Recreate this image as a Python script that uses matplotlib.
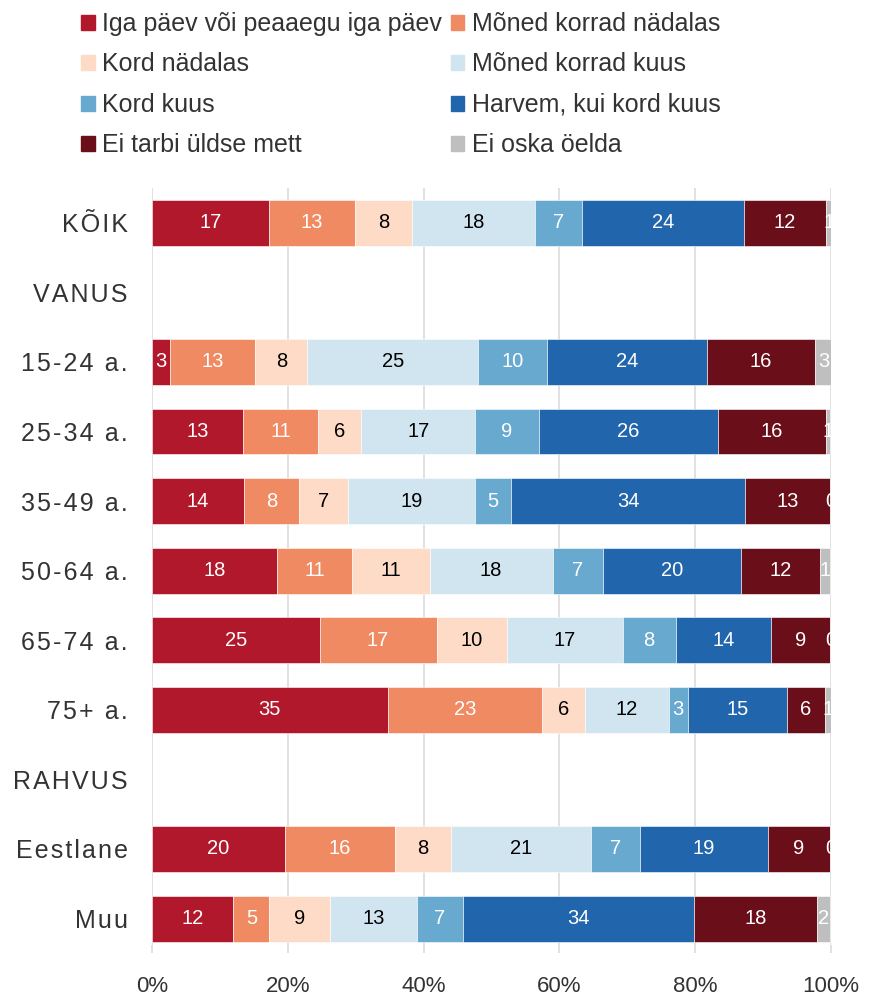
import matplotlib
matplotlib.use("Agg")
import matplotlib.pyplot as plt
from matplotlib.patches import Patch

plt.rcParams['font.family'] = ['Liberation Sans', 'DejaVu Sans']

# ridade nimed (pealkirjaread ilma tulpadeta)
rows = ["KÕIK", "VANUS", "15-24 a.", "25-34 a.", "35-49 a.", "50-64 a.",
        "65-74 a.", "75+ a.", "RAHVUS", "Eestlane", "Muu"]
data_rows = ["KÕIK", "15-24 a.", "25-34 a.", "35-49 a.", "50-64 a.",
             "65-74 a.", "75+ a.", "Eestlane", "Muu"]

series = ["Iga päev või peaaegu iga päev", "Mõned korrad nädalas",
          "Kord nädalas", "Mõned korrad kuus", "Kord kuus",
          "Harvem, kui kord kuus", "Ei tarbi üldse mett", "Ei oska öelda"]

iga_paev = [17.2, 2.6, 13.4, 13.6, 18.4, 24.7, 34.7, 19.6, 12.0]
moned_nadalas = [12.7, 12.6, 11.1, 8.1, 11.1, 17.2, 22.8, 16.2, 5.3]
kord_nadalas = [8.4, 7.7, 6.3, 7.1, 11.4, 10.4, 6.3, 8.2, 8.9]
moned_kuus = [18.1, 25.1, 16.8, 18.8, 18.1, 17.0, 12.3, 20.6, 12.8]
kord_kuus = [7.0, 10.1, 9.4, 5.3, 7.4, 7.8, 2.8, 7.2, 6.8]
harvem = [23.8, 23.7, 26.4, 34.4, 20.4, 14.1, 14.6, 18.9, 34.0]
ei_tarbi = [12.0, 15.8, 15.8, 12.6, 11.6, 8.7, 5.6, 9.1, 18.1]
ei_oska = [0.9, 2.6, 0.7, 0.2, 1.4, 0.2, 0.9, 0.3, 2.0]

values = [iga_paev, moned_nadalas, kord_nadalas, moned_kuus,
          kord_kuus, harvem, ei_tarbi, ei_oska]
colors = ["#B2182B", "#F08A62", "#FDDBC7", "#D1E5F0",
          "#67A9CF", "#2166AC", "#6A0E1A", "#BFBFBF"]
text_colors = ["white", "white", "black", "black",
               "white", "white", "white", "white"]

fig = plt.figure(figsize=(8.69, 9.98), dpi=100)
ax = fig.add_axes([0.1749, 0.0531, 0.7814, 0.7585])

pos = [rows.index(r) for r in data_rows]
left = [0.0] * len(data_rows)

for vals, col, tcol in zip(values, colors, text_colors):
    ax.barh(pos, vals, left=left, height=0.66, color=col,
            edgecolor="white", linewidth=0.4, zorder=2)
    for p, l, v in zip(pos, left, vals):
        ax.text(l + v / 2, p, str(int(v + 0.5)), ha="center", va="center",
                color=tcol, fontsize=14.5, clip_on=True, zorder=3)
    left = [a + b for a, b in zip(left, vals)]

ax.set_xlim(0, 100)
ax.set_ylim(10.38, -0.5)

ax.set_xticks(range(0, 101, 20))
ax.set_xticklabels([f"{t}%" for t in range(0, 101, 20)], fontsize=16,
                   color="#333333")
ax.set_yticks(range(len(rows)))
# hõre tähevahe
ax.set_yticklabels(["\u200a".join(r) for r in rows], fontsize=18,
                   color="#333333")

ax.tick_params(axis="x", length=6, width=1.1, color="#D9D9D9", pad=16.5)
ax.tick_params(axis="y", length=0, pad=17.5)

ax.grid(axis="x", color="#D9D9D9", linewidth=1.1)
ax.set_axisbelow(True)
for s in ax.spines.values():
    s.set_visible(False)

# legend: reas kaks kirjet
handles = [Patch(color=c) for c in colors]
order = [0, 2, 4, 6, 1, 3, 5, 7]
fig.legend([handles[i] for i in order], [series[i] for i in order],
           loc="upper left", bbox_to_anchor=(0.093, 0.988), ncol=2,
           frameon=False, fontsize=18, handlelength=0.55,
           handleheight=0.55, handletextpad=0.3, columnspacing=0.35,
           labelspacing=0.66, borderpad=0, borderaxespad=0,
           labelcolor="#333333")

fig.savefig("out.png", dpi=100)
